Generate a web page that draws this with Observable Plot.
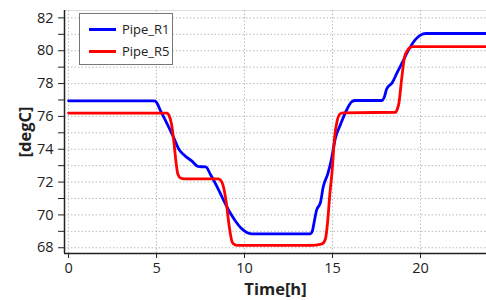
<!DOCTYPE html>
<html>
<head>
<meta charset="utf-8">
<script src="https://cdn.jsdelivr.net/npm/d3@7"></script>
<script src="https://cdn.jsdelivr.net/npm/@observablehq/plot@0.6"></script>
<style>
  html, body { margin: 0; padding: 0; background: #fff; }
  #wrap { position: relative; width: 486px; height: 300px; font-family: "Open Sans", sans-serif; }
  #wrap svg { font-family: "Open Sans", sans-serif; }
  g[aria-label="y-axis label"] text, g[aria-label="x-axis label"] text { font-weight: bold; font-size: 16.5px; }
  #legend { position: absolute; left: 79px; top: 13px; width: 94px; height: 52px; border: 1px solid #777; background: #fff; box-sizing: border-box; font-size: 13px; color: #222; }
  .item { position: absolute; left: 9px; display: flex; align-items: center; }
  .swatch { width: 27px; height: 3px; margin-right: 6px; }
</style>
</head>
<body>
<div id="wrap"><div id="legend"></div></div>
<script>
const seriesNames = ["Pipe_R1", "Pipe_R5"];
const seriesColors = ["#0000ff", "#ff0000"];

const timeR1 = [0, 4.9, 5.0, 5.23, 5.61, 5.98, 6.27, 6.55, 7.03, 7.35, 7.8, 8.07, 8.4, 8.73, 9.2, 9.5, 9.8, 10.1, 10.4, 13.75, 13.85, 13.94, 14.09, 14.32, 14.47, 14.73, 14.92, 15.17, 15.45, 15.83, 16.1, 16.3, 17.8, 17.95, 18.07, 18.39, 18.67, 18.96, 19.34, 19.72, 20.0, 20.3, 24];
const tempR1 = [76.95, 76.95, 76.85, 76.34, 75.53, 74.7, 74.0, 73.66, 73.26, 72.95, 72.92, 72.45, 71.8, 71.07, 70.1, 69.6, 69.2, 68.95, 68.85, 68.85, 69.0, 69.46, 70.27, 70.78, 71.7, 72.5, 73.3, 74.7, 75.5, 76.45, 76.9, 76.97, 76.97, 77.2, 77.65, 78.05, 78.66, 79.27, 80.08, 80.69, 80.95, 81.05, 81.05];

const timeR5 = [0, 5.6, 5.72, 5.85, 5.98, 6.12, 6.21, 6.36, 6.6, 8.5, 8.65, 8.78, 8.97, 9.11, 9.3, 9.45, 9.6, 13.75, 14.41, 14.6, 14.73, 14.85, 14.98, 15.11, 15.27, 15.45, 15.6, 18.58, 18.7, 18.77, 18.92, 19.09, 19.25, 19.4, 19.6, 24];
const tempR5 = [76.2, 76.2, 76.03, 75.53, 74.5, 73.1, 72.49, 72.25, 72.2, 72.2, 72.1, 71.8, 70.7, 69.46, 68.34, 68.18, 68.14, 68.14, 68.24, 68.55, 69.66, 71.3, 72.7, 74.65, 75.76, 76.17, 76.22, 76.25, 76.5, 76.78, 78.2, 79.6, 80.0, 80.2, 80.25, 80.25];

const xTicks = [0, 5, 10, 15, 20];
const yTicks = [68, 70, 72, 74, 76, 78, 80, 82];
const yMinorTicks = [69, 71, 73, 75, 77, 79, 81];
const xDomain = [-0.23, 23.75];
const yDomain = [67.65, 82.45];

const rows = [
  ...timeR1.map((t, i) => ({t, v: tempR1[i], s: seriesNames[0]})),
  ...timeR5.map((t, i) => ({t, v: tempR5[i], s: seriesNames[1]}))
];

const chart = Plot.plot({
  width: 486,
  height: 300,
  marginLeft: 64,
  marginRight: 0,
  marginTop: 10,
  marginBottom: 47,
  x: {domain: xDomain},
  y: {domain: yDomain},
  color: {domain: seriesNames, range: seriesColors},
  style: {fontSize: "14.5px", color: "#222", background: "#fff"},
  marks: [
    Plot.frame({stroke: "#ddd"}),
    Plot.gridY([...yTicks, ...yMinorTicks], {stroke: "#bbb", strokeOpacity: 1, strokeDasharray: "1.5,2"}),
    Plot.gridX(xTicks, {stroke: "#bbb", strokeOpacity: 1, strokeDasharray: "1.5,2"}),
    Plot.axisY(yTicks, {tickSize: 6, tickPadding: 5, label: "[degC]", labelArrow: "none", labelAnchor: "center", labelOffset: 45, stroke: "#222"}),
    Plot.axisY(yMinorTicks, {tickSize: 6, tickFormat: () => "", label: null, stroke: "#222"}),
    Plot.axisX(xTicks, {tickSize: 5, tickPadding: 4, label: "Time[h]", labelArrow: "none", labelAnchor: "center", labelOffset: 41, stroke: "#222"}),
    Plot.ruleY([yDomain[0]], {stroke: "#222", strokeWidth: 1.5}),
    Plot.ruleX([xDomain[0]], {stroke: "#222", strokeWidth: 1.5}),
    Plot.line(rows, {x: "t", y: "v", z: "s", stroke: "s", strokeWidth: 2.8, curve: "monotone-x", clip: true})
  ]
});
document.getElementById("wrap").prepend(chart);

const legend = document.getElementById("legend");
seriesNames.forEach((name, i) => {
  const item = document.createElement("div");
  item.className = "item";
  item.style.top = (i === 0 ? 6 : 28) + "px";
  const sw = document.createElement("span");
  sw.className = "swatch";
  sw.style.background = seriesColors[i];
  const label = document.createElement("span");
  label.textContent = name;
  item.append(sw, label);
  legend.append(item);
});
</script>
</body>
</html>
